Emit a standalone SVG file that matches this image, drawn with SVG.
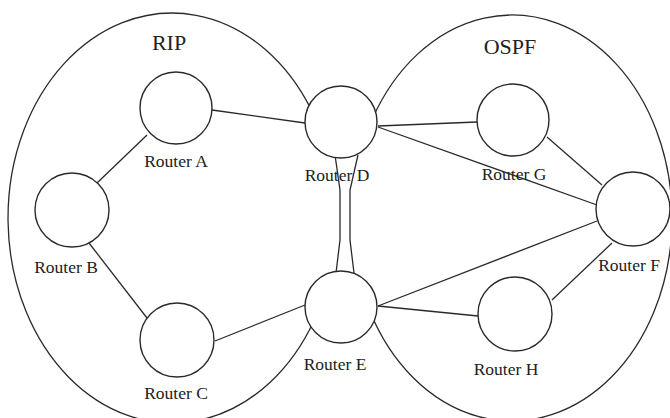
<svg xmlns="http://www.w3.org/2000/svg" width="670" height="418" viewBox="0 0 670 418">
<style>
.area{fill:none;stroke:#2a2a2a;stroke-width:1.3}
.link{fill:none;stroke:#2a2a2a;stroke-width:1.3}
.router{fill:#fff;stroke:#2a2a2a;stroke-width:1.4}
.lbl{font-family:"Liberation Serif","Times New Roman",serif;font-size:17.5px;fill:#222;text-anchor:middle}
.title{font-family:"Liberation Serif","Times New Roman",serif;font-size:22px;fill:#222;text-anchor:middle}
</style>
<rect width="670" height="418" fill="#fff"/>
<g id="areas">
<path id="rip-area" class="area" d="M311.4,110 A164,205 0 1 0 314.3,320"/>
<path id="ospf-area" class="area" d="M372.8,118 A160,203 0 1 1 370.2,312"/>
<text class="title" x="169" y="50">RIP</text>
<text class="title" x="510" y="54">OSPF</text>
</g>
<g id="connectors">
<line class="link" x1="212" y1="110" x2="305" y2="123"/>
<line class="link" x1="147" y1="135" x2="97" y2="183"/>
<line class="link" x1="89" y1="243" x2="147" y2="318"/>
<line class="link" x1="215" y1="341" x2="305" y2="305"/>
<line class="link" x1="378" y1="126" x2="477" y2="122"/>
<line class="link" x1="378" y1="127" x2="597" y2="205"/>
<line class="link" x1="547" y1="137" x2="602" y2="185"/>
<line class="link" x1="378" y1="306" x2="597" y2="221"/>
<line class="link" x1="378" y1="306" x2="478" y2="316"/>
<line class="link" x1="552" y1="300" x2="612" y2="243"/>
<polyline class="link" points="335,155 340,190 340,240 336,273"/>
<polyline class="link" points="358,155 350,190 350,240 354,273"/>
</g>
<g id="router-a"><circle class="router" cx="176" cy="108" r="36"/><text class="lbl" x="176" y="167">Router A</text></g>
<g id="router-b"><circle class="router" cx="72" cy="210" r="37"/><text class="lbl" x="66" y="273">Router B</text></g>
<g id="router-c"><circle class="router" cx="177" cy="340" r="37"/><text class="lbl" x="176" y="399">Router C</text></g>
<g id="router-d"><circle class="router" cx="341" cy="122" r="36"/><text class="lbl" x="337" y="181">Router D</text></g>
<g id="router-e"><circle class="router" cx="341" cy="307" r="36"/><text class="lbl" x="335" y="370">Router E</text></g>
<g id="router-g"><circle class="router" cx="513" cy="120" r="36"/><text class="lbl" x="514" y="180">Router G</text></g>
<g id="router-f"><circle class="router" cx="633" cy="209" r="37"/><text class="lbl" x="629" y="271">Router F</text></g>
<g id="router-h"><circle class="router" cx="515" cy="314" r="37"/><text class="lbl" x="506" y="375">Router H</text></g>
</svg>
